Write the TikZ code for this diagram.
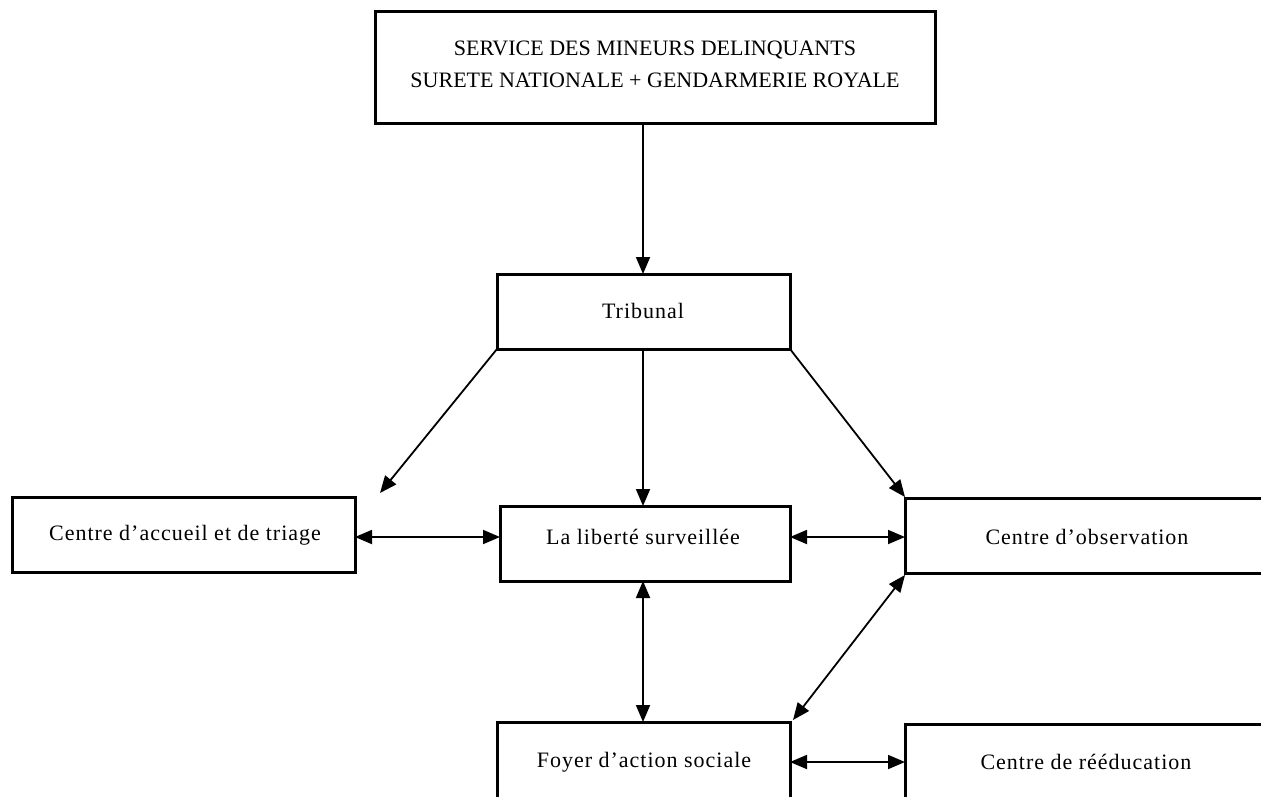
\documentclass[tikz,border=0pt]{standalone}
\usepackage{fontspec}
\setmainfont{Liberation Serif}
\newfontfamily\spacedfont[LetterSpace=4.5]{Liberation Serif}
\usetikzlibrary{arrows.meta}
\begin{document}
\begin{tikzpicture}[x=1pt,y=-1pt,
  box/.style={draw,line width=3pt},
  lbl/.style={font=\spacedfont\fontsize{22}{32}\selectfont,align=center},
  caps/.style={font=\fontsize{22}{32}\selectfont,align=center},
  conn/.style={line width=1.8pt,-{Triangle[length=17pt,width=14pt]}},
  bconn/.style={line width=1.8pt,{Triangle[length=17pt,width=14pt]}-{Triangle[length=17pt,width=14pt]}}]
\useasboundingbox (0,0) rectangle (1261,796);
\begin{scope}
\clip (0,0) rectangle (1261,796);
% boxes
\draw[box] (375,11) rectangle (935,123);
\node[caps] (toplbl) at (655,64) {SERVICE DES MINEURS DELINQUANTS\\SURETE NATIONALE + GENDARMERIE ROYALE};
\draw[box] (497,274) rectangle (790,349);
\node[lbl] (trib) at (643,311) {Tribunal};
\draw[box] (12,497) rectangle (355,572);
\node[lbl] (acc) at (185,535) {Centre d’accueil et de triage};
\draw[box] (500,506) rectangle (790,581);
\node[lbl] (lib) at (643,537) {La liberté surveillée};
\draw[box] (905,498) rectangle (1300,573);
\node[lbl] (obs) at (1087,537) {Centre d’observation};
\draw[box] (497,722) rectangle (790,820);
\node[lbl] (foy) at (644,762) {Foyer d’action sociale};
\draw[box] (905,724) rectangle (1300,820);
\node[lbl] (reed) at (1086,762) {Centre de rééducation};
% connector end points
\coordinate (topB) at (643,123);
\coordinate (tribT) at (643,274);
\coordinate (tribBL) at (497,349);
\coordinate (tribB) at (643,349);
\coordinate (tribBR) at (790,349);
\coordinate (accTR) at (380,493);
\coordinate (accR) at (355,537);
\coordinate (libL) at (500,537);
\coordinate (libR) at (790,537);
\coordinate (libT) at (643,506);
\coordinate (libB) at (643,581);
\coordinate (obsL) at (905,537);
\coordinate (obsTL) at (905,497);
\coordinate (obsBL) at (905,575);
\coordinate (foyT) at (643,722);
\coordinate (foyTR) at (793,720);
\coordinate (foyR) at (790,762);
\coordinate (reedL) at (905,762);
% connectors
\draw[conn] (topB) -- (tribT);
\draw[conn] (tribBL) -- (accTR);
\draw[conn] (tribB) -- (libT);
\draw[conn] (tribBR) -- (obsTL);
\draw[bconn] (accR) -- (libL);
\draw[bconn] (libR) -- (obsL);
\draw[bconn] (libB) -- (foyT);
\draw[bconn] (obsBL) -- (foyTR);
\draw[bconn] (foyR) -- (reedL);
\end{scope}
\end{tikzpicture}
\end{document}
